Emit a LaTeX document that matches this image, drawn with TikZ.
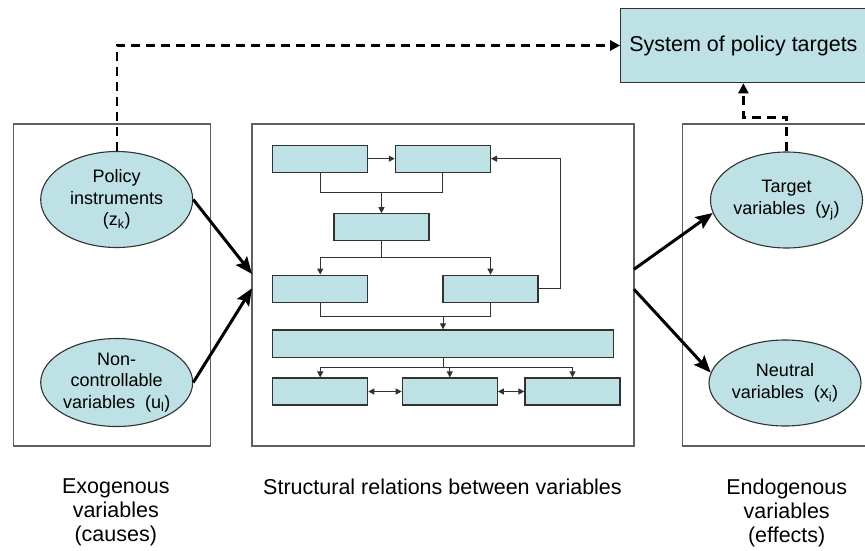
\documentclass[tikz,border=0pt]{standalone}
\usepackage{fontspec}
\setmainfont{Liberation Sans}
\usetikzlibrary{arrows.meta,shapes.geometric,calc}
\definecolor{boxfill}{RGB}{189,225,228}
\definecolor{boxline}{RGB}{50,50,50}
\definecolor{frameline}{RGB}{95,95,95}
\begin{document}
\begin{tikzpicture}[x=1pt,y=-1pt,
  smallbox/.style={draw=boxline, fill=boxfill, line width=1.2pt, minimum width=95pt, minimum height=27pt, inner sep=0pt},
  varell/.style={ellipse, draw=boxline, fill=boxfill, line width=1.1pt, minimum width=152pt, inner sep=0pt, align=center, font=\fontsize{18}{21.5}\selectfont},
  frame/.style={draw=frameline, line width=1.2pt, inner sep=0pt},
  thinline/.style={line width=1pt, draw=boxline},
  thinarr/.style={thinline, -{Triangle[length=6pt,width=6pt]}},
  thinboth/.style={thinline, {Triangle[length=6pt,width=6pt]}-{Triangle[length=6pt,width=6pt]}},
  bigarr/.style={line width=3pt, -{Stealth[length=17pt,width=14pt,inset=3pt]}},
  dasharr/.style={line width=2.4pt, dash pattern=on 9pt off 6pt, -{Triangle[length=10pt,width=10pt]}},
  caption/.style={align=center, inner sep=0pt, anchor=north, font=\fontsize{21.5}{24}\selectfont}
]
\useasboundingbox (0,0) rectangle (865,551);

% frames
\node[frame, minimum width=197.4pt, minimum height=322pt] (exo) at (112,285) {};
\node[frame, minimum width=382pt, minimum height=322pt] (struct) at (443,285) {};
\node[frame, minimum width=188pt, minimum height=322pt] (endo) at (776.3,285) {};

% target box
\node[draw=boxline, fill=boxfill, line width=1.2pt, minimum width=245.3pt, minimum height=74.4pt, inner sep=0pt,
      font=\fontsize{21.5}{24}\selectfont] (tgt) at (743.4,45.5) {System of policy targets};

% ellipses
\node[varell, minimum height=96pt] (e1) at (116.7,199.5) {Policy\\instruments\\(z\textsubscript{k})};
\node[varell, minimum height=88pt] (e2) at (116.7,382.5) {Non-\\controllable\\variables\ \ (u\textsubscript{l})};
\node[varell, minimum height=96pt] (e3) at (786.5,200) {Target\\variables\ \ (y\textsubscript{j})};
\node[varell, minimum height=86pt] (e4) at (785,383) {Neutral\\variables\ \ (x\textsubscript{i})};

% inner boxes
\node[smallbox] (b1) at (320.2,158.7) {};
\node[smallbox] (b2) at (442.9,158.7) {};
\node[smallbox] (b3) at (381.5,227.3) {};
\node[smallbox] (b4) at (320.2,288.7) {};
\node[smallbox] (b5) at (490.5,288.7) {};
\node[smallbox, minimum width=340.6pt, minimum height=27.7pt] (b6) at (443,343.8) {};
\node[smallbox] (b7) at (320.2,391.5) {};
\node[smallbox] (b8) at (449.8,391.5) {};
\node[smallbox] (b9) at (572.5,391.5) {};

% junction coordinates
\coordinate (j1) at (0,192.7);
\coordinate (j2) at (0,257.3);
\coordinate (j3) at (0,316);
\coordinate (j4) at (0,367.3);
\coordinate (fb) at (560,0);

% inner connectors
\draw[thinarr] (b1.east) -- (b2.west);
\draw[thinline] (b1.south) -- (b1.south |- j1) -- (b2.south |- j1) -- (b2.south);
\draw[thinarr] (b3.north |- j1) -- (b3.north);
\draw[thinline] (b3.south) -- (b3.south |- j2);
\draw[thinline] (b4.north |- j2) -- (b5.north |- j2);
\draw[thinarr] (b4.north |- j2) -- (b4.north);
\draw[thinarr] (b5.north |- j2) -- (b5.north);
\draw[thinarr] (b5.east) -- (b5.east -| fb) -- (b2.east -| fb) -- (b2.east);
\draw[thinline] (b4.south) -- (b4.south |- j3) -- (b5.south |- j3) -- (b5.south);
\draw[thinarr] (b6.north |- j3) -- (b6.north);
\draw[thinline] (b6.south) -- (b6.south |- j4);
\draw[thinline] (b7.north |- j4) -- (b9.north |- j4);
\draw[thinarr] (b7.north |- j4) -- (b7.north);
\draw[thinarr] (b8.north |- j4) -- (b8.north);
\draw[thinarr] (b9.north |- j4) -- (b9.north);
\draw[thinboth] (b7.east) -- (b8.west);
\draw[thinboth] (b8.east) -- (b9.west);

% thick arrows
\coordinate (s1) at (252,274);
\coordinate (s2) at (252,288.3);
\coordinate (t1) at (634,269.3);
\coordinate (t2) at (634,289.3);
\draw[bigarr] (e1.east) -- (s1);
\draw[bigarr] (e2.east) -- (s2);
\draw[bigarr] (t1) -- (e3.190);
\draw[bigarr] (t2) -- (e4.172);

% dashed arrows
\draw[dasharr] (e1.north) |- (tgt.west);
\coordinate (d1) at (0,117.3);
\draw[dasharr] (e3.north) -- (e3.north |- d1) -- (tgt.south |- d1) -- (tgt.south);

% captions
\node[caption] (capl) at (115.8,479) {Exogenous\\variables\\(causes)};
\node[caption] (capm) at (442.5,479) {Structural relations between variables};
\node[caption] (capr) at (786.7,479) {Endogenous\\variables\\(effects)};
\end{tikzpicture}
\end{document}
